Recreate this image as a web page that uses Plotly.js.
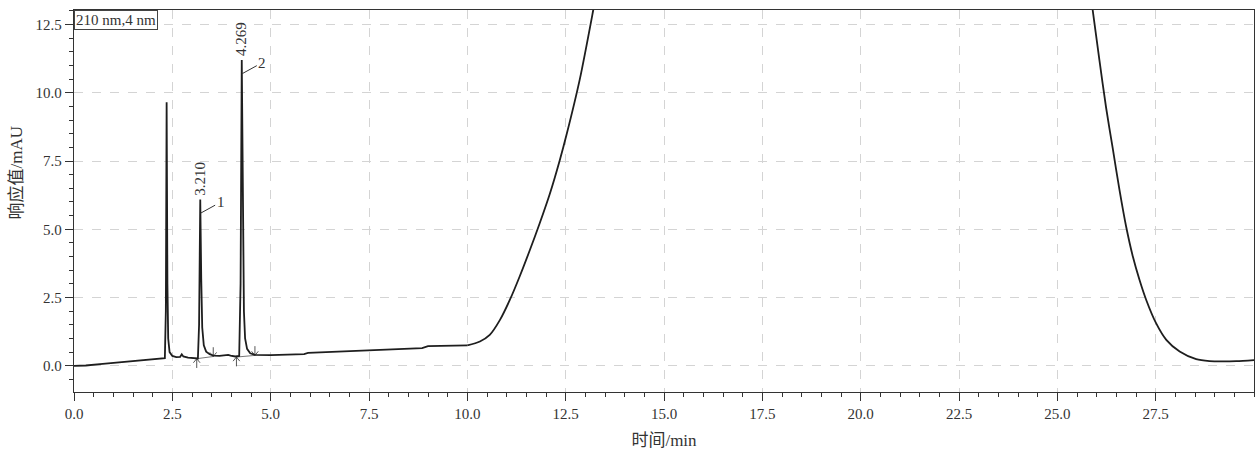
<!DOCTYPE html>
<html>
<head>
<meta charset="utf-8">
<script src="https://cdn.plot.ly/plotly-3.0.1.min.js"></script>
<style>html,body{margin:0;padding:0;background:#fff;}#chart{width:1257px;height:455px;}</style>
</head>
<body>
<div id="chart"></div>
<script>
// Chromatogram trace (time in min, signal in mAU)
const time = [0.00,0.30,0.66,1.00,1.50,2.00,2.25,2.31,2.335,2.355,2.375,2.395,2.43,2.50,2.60,2.70,2.74,2.78,2.90,3.05,3.15,3.18,3.21,3.235,3.26,3.30,3.36,3.45,3.55,3.70,3.85,3.92,3.98,4.10,4.20,4.235,4.265,4.29,4.32,4.35,4.40,4.48,4.60,5.00,5.50,5.85,5.95,6.50,7.00,7.50,8.00,8.50,8.85,9.00,9.50,10.00,10.32,10.57,10.83,11.08,11.33,11.59,11.84,12.10,12.35,12.52,12.86,13.20,13.50,14.50,16.00,18.00,19.60,21.50,23.50,25.00,25.60,25.90,26.07,26.24,26.41,26.58,26.75,26.92,27.09,27.26,27.51,27.77,28.11,28.53,28.87,29.20,29.55,30.00];
const signal = [0.00,0.01,0.06,0.10,0.16,0.22,0.25,0.28,2.0,9.65,3.0,1.0,0.5,0.36,0.32,0.33,0.42,0.34,0.30,0.27,0.27,1.5,6.09,3.2,1.4,0.75,0.52,0.42,0.37,0.36,0.37,0.40,0.37,0.34,0.36,3.0,11.2,6.0,2.0,1.0,0.62,0.46,0.40,0.39,0.41,0.43,0.47,0.50,0.53,0.56,0.59,0.62,0.65,0.72,0.73,0.75,0.89,1.13,1.68,2.41,3.27,4.24,5.22,6.31,7.53,8.45,10.50,13.02,15.4,24,36,45,48,45,35,22,16.3,13.02,11.19,9.45,7.95,6.44,5.09,4.00,3.14,2.41,1.56,0.95,0.52,0.24,0.17,0.16,0.17,0.21];

// Integrated peaks
const peakNames = ["1", "2"];
const peakRT = [3.210, 4.269];
const peakHeight = [6.09, 11.2];
const peakLabels = ["3.210", "4.269"];
const intStart = [3.12, 4.13];
const intStartVal = [0.26, 0.32];
const intEnd = [3.54, 4.60];
const intEndVal = [0.34, 0.38];

const xTicks = [0, 2.5, 5, 7.5, 10, 12.5, 15, 17.5, 20, 22.5, 25, 27.5];
const xTickText = xTicks.map(v => v.toFixed(1));
const yTicks = [0, 2.5, 5, 7.5, 10, 12.5];
const yTickText = yTicks.map(v => v.toFixed(1));

// Narrow-peak region drawn straight, broad solvent band drawn smooth
const split = time.indexOf(10.00);
const tA = time.slice(0, split + 1), sA = signal.slice(0, split + 1);
const tB = time.slice(split), sB = signal.slice(split);

// Build baseline segments and arrow glyphs from integration points
const blX = [], blY = [], arX = [], arY = [];
const shaft = 0.34, headH = 0.15, headW = 0.085;
for (let i = 0; i < intStart.length; i++) {
  blX.push(intStart[i], intEnd[i], null);
  blY.push(intStartVal[i], intEndVal[i], null);
  let t = intStart[i], v = intStartVal[i];
  arX.push(t, t, null, t - headW, t, t + headW, null);
  arY.push(v - shaft, v, null, v - headH, v, v - headH, null);
  t = intEnd[i]; v = intEndVal[i];
  arX.push(t, t, null, t - headW, t, t + headW, null);
  arY.push(v + shaft, v, null, v + headH, v, v + headH, null);
}

const serif = '"Liberation Serif", "Times New Roman", "Noto Sans CJK SC", serif';
const cjk = '"Liberation Serif", "Noto Sans CJK SC", serif';
const lineCol = '#1e1e1e';

const traces = [
  {x: blX, y: blY, mode: 'lines', line: {color: '#555', width: 0.8}, hoverinfo: 'skip', showlegend: false},
  {x: arX, y: arY, mode: 'lines', line: {color: '#444', width: 0.9}, hoverinfo: 'skip', showlegend: false},
  {x: tA, y: sA, mode: 'lines', line: {color: lineCol, width: 1.8}, showlegend: false},
  {x: tB, y: sB, mode: 'lines', line: {color: lineCol, width: 1.8, shape: 'spline', smoothing: 0.8}, showlegend: false}
];

const annotations = [
  {xref: 'paper', yref: 'paper', x: 0, y: 1.0, xanchor: 'left', yanchor: 'top',
   text: '210 nm,4 nm', showarrow: false, bordercolor: '#444', borderwidth: 1, borderpad: 1,
   bgcolor: '#fff', font: {family: serif, size: 15, color: '#333'}},
  {xref: 'paper', yref: 'paper', x: -0.049, y: 0.575, xanchor: 'center', yanchor: 'middle',
   text: '响应值/mAU', textangle: -90, showarrow: false, font: {family: cjk, size: 17, color: '#333'}}
];
for (let i = 0; i < peakRT.length; i++) {
  annotations.push({x: peakRT[i], y: peakHeight[i], xref: 'x', yref: 'y', text: peakLabels[i],
    textangle: -90, showarrow: false, xanchor: 'center', yanchor: 'bottom', yshift: 2, xshift: -1,
    font: {family: serif, size: 15, color: '#333'}});
  annotations.push({x: peakRT[i] + 0.01, y: peakHeight[i] - 0.5, xref: 'x', yref: 'y', text: peakNames[i],
    showarrow: true, arrowhead: 0, arrowwidth: 1, arrowcolor: '#333', ax: 20, ay: -11, standoff: 0,
    font: {family: serif, size: 15, color: '#333'}});
}

const layout = {
  width: 1257, height: 455,
  margin: {l: 74, r: 3, t: 10, b: 63},
  paper_bgcolor: '#fff', plot_bgcolor: '#fff',
  font: {family: serif, color: '#333', size: 15},
  xaxis: {
    range: [0, 30], tickmode: 'array', tickvals: xTicks, ticktext: xTickText,
    ticks: 'outside', ticklen: 8, tickwidth: 1, tickcolor: '#333',
    showline: true, linecolor: '#333', linewidth: 1.2, mirror: true,
    showgrid: true, gridcolor: '#d4d4d4', griddash: 'dash', gridwidth: 1, zeroline: false,
    minor: {dtick: 0.5, tick0: 0, ticks: 'outside', ticklen: 4, tickcolor: '#333', showgrid: false},
    tickfont: {family: serif, size: 15, color: '#333'},
    title: {text: '时间/min', font: {family: cjk, size: 17, color: '#333'}, standoff: 12}
  },
  yaxis: {
    range: [-0.96, 13.03], tickmode: 'array', tickvals: yTicks, ticktext: yTickText,
    ticks: 'outside', ticklen: 8, tickwidth: 1, tickcolor: '#333',
    showline: true, linecolor: '#333', linewidth: 1.2, mirror: true,
    showgrid: true, gridcolor: '#d4d4d4', griddash: 'dash', gridwidth: 1, zeroline: false,
    minor: {dtick: 0.5, tick0: 0, ticks: 'outside', ticklen: 4, tickcolor: '#333', showgrid: false},
    tickfont: {family: serif, size: 15, color: '#333'}
  },
  annotations: annotations
};

Plotly.newPlot('chart', traces, layout, {displayModeBar: false, staticPlot: true});
</script>
</body>
</html>
